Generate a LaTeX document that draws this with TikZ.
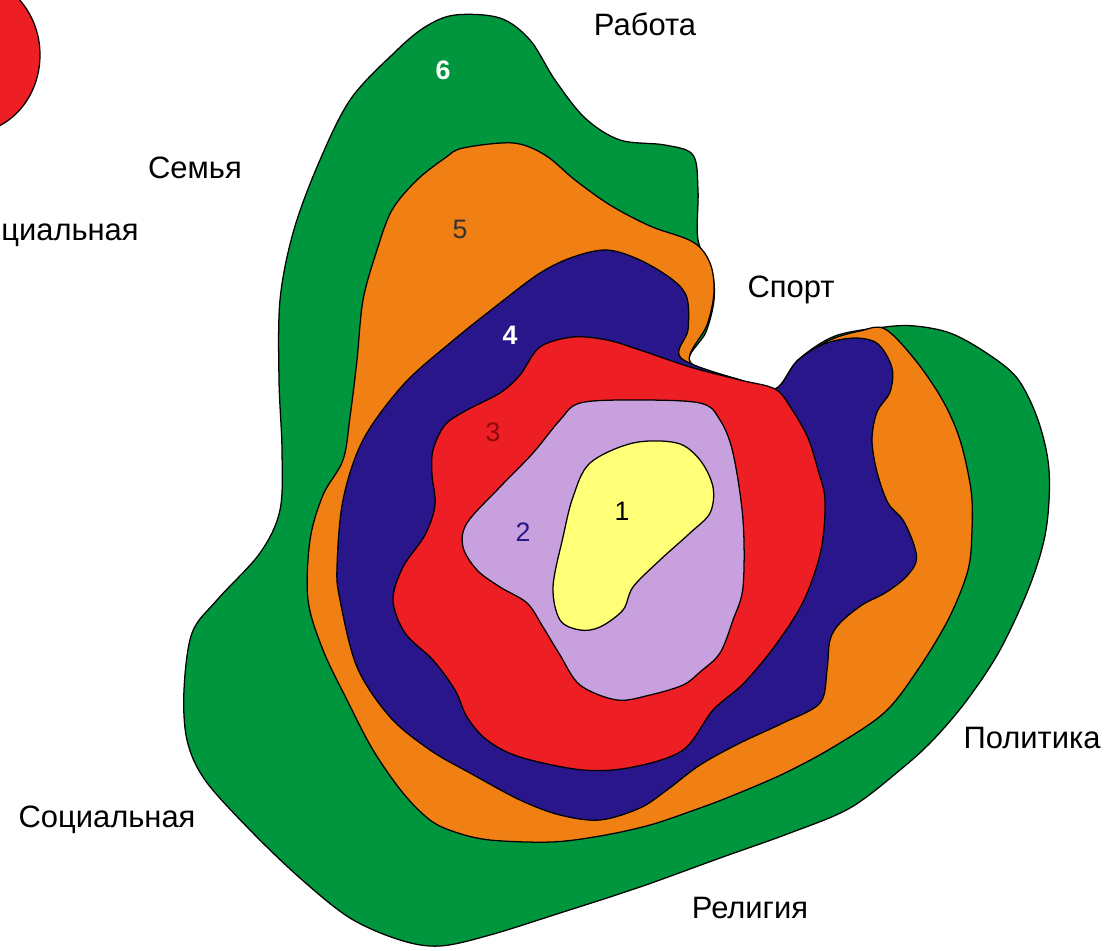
\documentclass[tikz,border=0pt]{standalone}
\usepackage{fontspec}
\setmainfont{Liberation Sans}
\usepackage{tikz}
\usetikzlibrary{positioning}
\definecolor{zonegreen}{RGB}{0,150,62}
\definecolor{zoneorange}{RGB}{240,128,20}
\definecolor{zonenavy}{RGB}{40,22,138}
\definecolor{zonered}{RGB}{237,30,36}
\definecolor{zonelilac}{RGB}{200,160,222}
\definecolor{zoneyellow}{RGB}{255,255,120}
\definecolor{darkred}{RGB}{140,10,10}

\begin{document}
\begin{tikzpicture}[
    x=0.025cm, y=-0.025cm,
    zone/.style={draw=black, line width=0.9pt, fill=#1},
    lbl/.style={font=\fontsize{22}{26}\selectfont, inner sep=0pt},
    num/.style={font=\fontsize{19}{22}\selectfont, inner sep=0pt, text=#1}
]
\clip (0,0) rectangle (1117,950);
\fill[white] (0,0) rectangle (1117,950);

% red blob, cut by the left edge
\draw[zone=zonered] (-30,55) ellipse [x radius=70, y radius=78];

% 6
\draw[zone=zonegreen] plot[smooth cycle, tension=0.55] coordinates {
  (455,15) (500,18) (530,40) (555,80) (585,118) (620,140) (665,145) (693,155)
  (698,190) (698,240) (712,272) (714,300) (706,332) (690,362) (740,380) (775,389)
  (798,360) (835,336) (885,327) (915,326) (950,333) (985,352) (1017,378) (1038,420)
  (1049,470) (1046,530) (1030,585) (1000,650) (967,700) (933,740) (900,770) (850,808)
  (790,833) (720,858) (640,887) (560,913) (490,935) (440,946) (400,940) (350,918)
  (300,878) (250,830) (205,780) (187,740) (184,690) (192,633) (217,600) (260,553)
  (280,510) (282,450) (279,380) (280,300) (293,233) (317,167) (350,100) (395,52) (425,27)};

% 5
\draw[zone=zoneorange] plot[smooth cycle, tension=0.55] coordinates {
  (463,148) (513,143) (545,155) (575,180) (610,205) (650,226) (693,242) (710,263)
  (714,292) (707,325) (690,362) (740,380) (775,389) (800,360) (830,340) (860,331)
  (885,329) (916,361) (943,401) (960,440) (971,490) (972,530) (968,570) (949,618)
  (919,668) (885,712) (835,746) (785,773) (734,795) (700,808) (650,825) (600,836)
  (551,842) (490,840) (455,832) (430,820) (403,793) (373,750) (347,700) (323,650)
  (308,600) (310,540) (323,495) (343,460) (350,417) (357,360) (363,300) (377,250)
  (392,210) (417,180) (445,158)};

% 4
\draw[zone=zonenavy] plot[smooth cycle, tension=0.55] coordinates {
  (540,273) (573,257) (607,250) (640,260) (673,280) (687,298) (688,330) (681,358)
  (740,380) (775,389) (797,361) (824,344) (855,338) (878,344) (892,368) (890,392)
  (877,412) (872,440) (877,472) (888,503) (903,520) (914,545) (916,562) (905,578)
  (885,593) (862,605) (840,623) (830,640) (827,670) (820,703) (783,723) (740,743)
  (700,765) (667,790) (640,808) (600,820) (560,815) (520,800) (470,773) (430,750)
  (390,717) (357,667) (340,600) (337,567) (343,500) (363,440) (403,385) (450,343)
  (500,303)};

% 3
\draw[zone=zonered] plot[smooth cycle, tension=0.55] coordinates {
  (540,347) (573,337) (607,340) (640,350) (690,367) (740,380) (775,389) (791,408)
  (808,438) (818,470) (825,500) (821,550) (804,600) (777,643) (744,683) (713,710)
  (683,750) (633,767) (583,770) (520,757) (487,740) (467,717) (455,690) (433,660)
  (405,633) (393,600) (403,567) (425,535) (435,505) (432,475) (433,450) (445,425)
  (467,410) (500,393) (520,375)};

% 2
\draw[zone=zonelilac] plot[smooth cycle, tension=0.55] coordinates {
  (580,403) (633,400) (700,403) (720,420) (733,453) (743,520) (743,587) (733,620)
  (720,653) (700,672) (683,685) (650,695) (617,700) (580,685) (560,655) (543,627)
  (527,603) (500,587) (477,570) (463,547) (467,523) (500,487) (533,453) (560,420)};

% 1
\draw[zone=zoneyellow] plot[smooth cycle, tension=0.55] coordinates {
  (560,620) (553,587) (563,537) (573,497) (590,463) (633,443) (677,443) (700,460)
  (713,487) (710,513) (690,533) (660,560) (633,587) (623,610) (600,627) (580,630)};

% zone numbers
\node[num=white, font=\fontsize{19}{22}\selectfont\bfseries] (n6) at (443,70) {6};
\node[num=black!80] (n5) at (460,229) {5};
\node[num=white, font=\fontsize{19}{22}\selectfont\bfseries] (n4) at (510,335) {4};
\node[num=darkred] (n3) at (493,432) {3};
\node[num=zonenavy] (n2) at (523,532) {2};
\node[num=black] (n1) at (622,511) {1};

% spheres
\node[lbl] (rabota) at (645,24) {Работа};
\node[lbl] (semya) at (195,168) {Семья};
\node[lbl, anchor=west] (socialcut) at (1,235) {циальная};
\node[lbl] (sport) at (791,290) {Спорт};
\node[lbl] (politika) at (1032,738) {Политика};
\node[lbl] (social) at (107,820) {Социальная};
\node[lbl] (religiya) at (750,908) {Религия};
\end{tikzpicture}
\end{document}
